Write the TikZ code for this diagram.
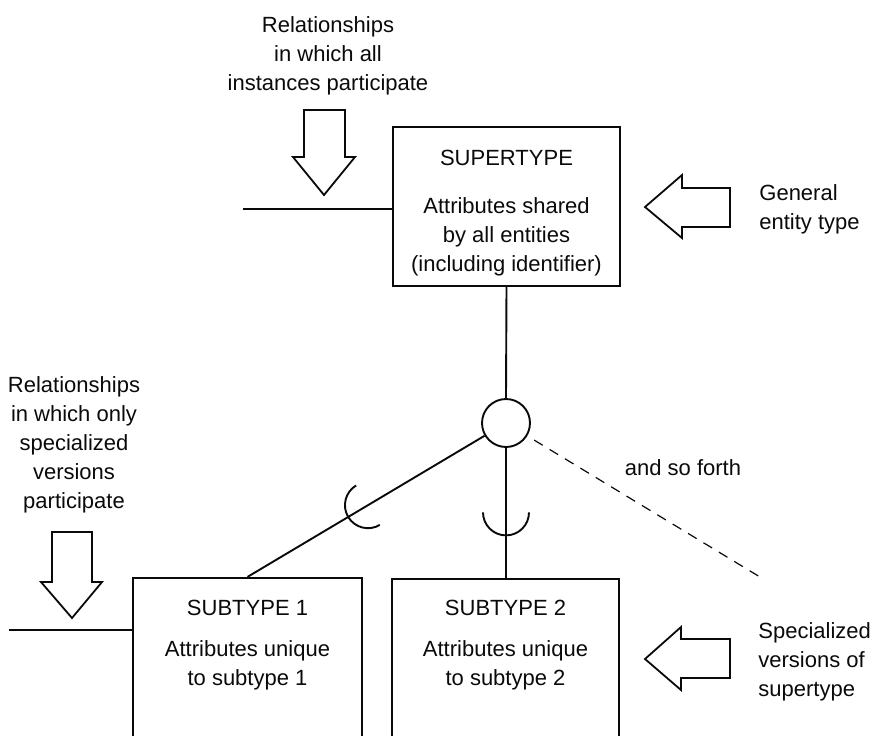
\documentclass[tikz,border=0pt]{standalone}
\usepackage{fontspec}
\setmainfont{Liberation Sans}
\usepackage{tikz}
\usetikzlibrary{calc,positioning}
\definecolor{erInk}{RGB}{10,10,10}
\tikzset{
  ertext/.style={font=\fontsize{11}{14.5}\selectfont, text=erInk, inner sep=0pt, align=center},
  entbox/.style={draw=erInk, line width=1.1pt, inner sep=0pt},
  erline/.style={draw=erInk, line width=0.95pt},
  blockarrow/.style={draw=erInk, line width=0.9pt, line join=miter},
  gsym/.style={circle, draw=erInk, line width=0.95pt, minimum size=24pt, inner sep=0pt},
}

\begin{document}
\begin{tikzpicture}[x=0.5pt, y=-0.5pt]
\useasboundingbox (0,0) rectangle (874,735);
\clip (0,0) rectangle (874,735);

\node[entbox, minimum width=113.5pt, minimum height=79.5pt] (super) at (506.5,206.5) {};
\node[entbox, minimum width=114.5pt, minimum height=100pt] (sub1) at (247.5,678) {};
\node[entbox, minimum width=113.5pt, minimum height=100pt] (sub2) at (505.5,679) {};
\node[gsym] (d) at (506,423) {};

\node[ertext, below=12pt of super.north] (supertxt) {SUPERTYPE\\[9.5pt]Attributes shared\\by all entities\\(including identifier)};
\node[ertext, below=11.5pt of sub1.north] (sub1txt) {SUBTYPE 1\\[6pt]Attributes unique\\to subtype 1};
\node[ertext, below=11pt of sub2.north] (sub2txt) {SUBTYPE 2\\[6pt]Attributes unique\\to subtype 2};

\node[ertext, anchor=north] (allrel) at (328,16) {Relationships\\in which all\\instances participate};
\node[ertext, anchor=north] (somerel) at (74,376) {Relationships\\in which only\\specialized\\versions\\participate};
\node[ertext, anchor=north west, align=left] (gen) at (759,184) {General\\entity type};
\node[ertext, anchor=north west, align=left] (spec) at (758,622) {Specialized\\versions of\\supertype};
\node[ertext, anchor=base] (etc) at (683,475) {and so forth};

\coordinate (relin) at (243,209);
\coordinate (relsp) at (9,630);
\coordinate (more) at (760,577);

\draw[erline] (relin) -- (relin -| super.west);
\draw[erline] (relsp) -- (relsp -| sub1.west);
\draw[erline] (super.south) -- (d.north);
\draw[erline] (d.south) -- (d.south |- sub2.north);
\draw[erline] (d) -- (sub1.north);
\draw[erline, line width=0.6pt, dash pattern=on 5pt off 4pt, shorten <=4pt] (d) -- (more);

\coordinate (cupa) at ($(d)!0.577!(d |- sub2.north)$);
\coordinate (cupb) at ($(d)!0.534!(sub1.north)$);
\draw[erline] ([shift={(180:11.5pt)}]cupa) arc[start angle=180, end angle=360, radius=11.5pt];
\draw[erline] ([shift={(121:11.5pt)}]cupb) arc[start angle=121, end angle=301, radius=11.5pt];

\draw[blockarrow] (304,110) -- (345,110) -- (345,157) -- (355,157) -- (324,195) -- (293,157) -- (304,157) -- cycle;
\draw[blockarrow] (52,532) -- (92,532) -- (92,582) -- (102,582) -- (72,618) -- (41,582) -- (52,582) -- cycle;
\draw[blockarrow] (730,188) -- (682,188) -- (682,175) -- (645,207) -- (682,238) -- (682,227) -- (730,227) -- cycle;
\draw[blockarrow] (730,639) -- (681,639) -- (681,627) -- (645,659) -- (681,690) -- (681,678) -- (730,678) -- cycle;
\end{tikzpicture}
\end{document}
